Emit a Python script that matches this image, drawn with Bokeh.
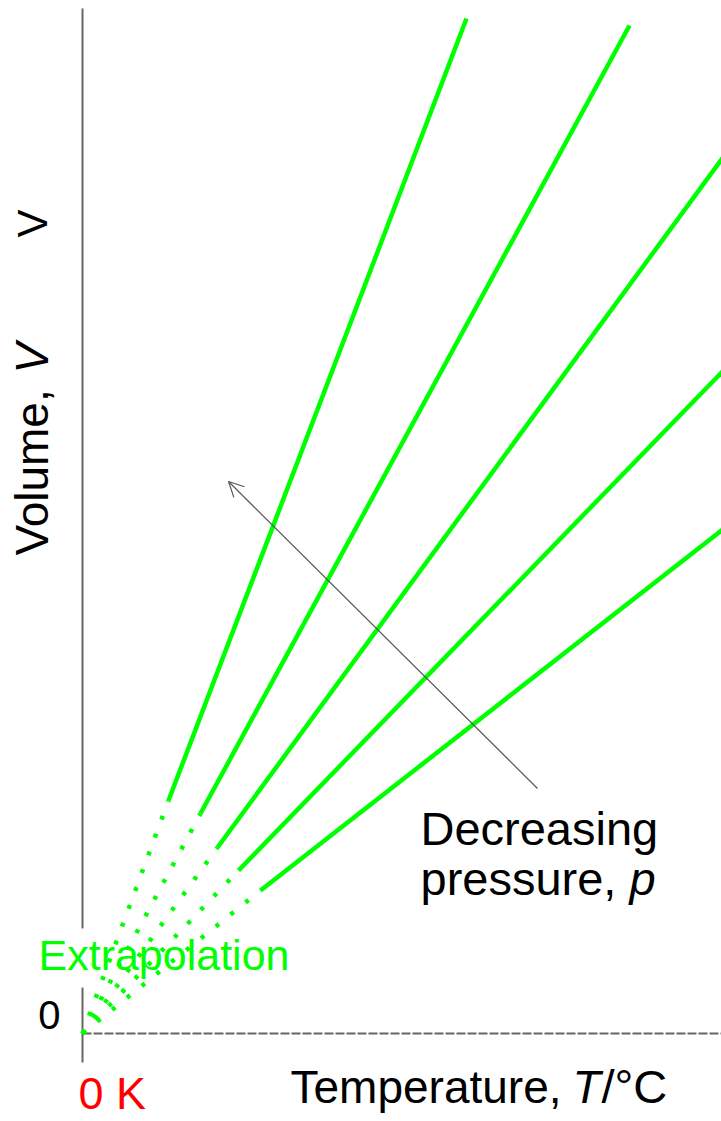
from bokeh.plotting import figure
from bokeh.models import Range1d, Label, Arrow, OpenHead
from bokeh.embed import file_html
from bokeh.resources import INLINE
import math

# ---- data (arbitrary units: temperature in K from absolute zero, volume) ----
t_solid_start = [43.0, 59.0, 67.5, 78.0, 89.0]
v_solid_start = [116.5, 110.0, 93.0, 81.5, 71.5]
t_solid_end = [192.0, 273.5, 320.0, 320.0, 320.0]
v_solid_end = [507.5, 504.0, 437.7, 331.0, 251.9]

x_axis_t = [0.0, 320.0]
y_axis_v = [-14.5, 512.5]

GREEN = "#00ff00"
AXIS = "#666666"
FONT = "Liberation Sans"

W, H = 721, 1121
SCALE = 2.0          # pixels per data unit
OX, OY = 82, 1033    # pixel position of the origin


def dx(px):
    return (px - OX) / SCALE


def dy(py):
    return (OY - py) / SCALE


p = figure(width=W, height=H, output_backend="svg", toolbar_location=None,
           x_range=Range1d(dx(0), dx(W)), y_range=Range1d(dy(H), dy(0)),
           x_axis_location=None, y_axis_location=None, min_border=0,
           tools="")
p.outline_line_color = None
p.grid.visible = False
p.background_fill_color = "white"
p.border_fill_color = "white"

# axes
p.line([0, 0], y_axis_v, line_color=AXIS, line_width=2)
p.line(x_axis_t, [0, 0], line_color=AXIS, line_width=2, line_dash="9 2")

# white box behind "Extrapolation"
p.quad(left=[dx(35)], right=[dx(296)], bottom=[dy(987)], top=[dy(928)],
       fill_color="white", line_color=None)

# lines
for i in range(len(t_solid_start)):
    p.line([0, t_solid_start[i]], [0, v_solid_start[i]], line_color=GREEN,
           line_width=4.5, line_dash="4 15", line_cap="butt")
    p.line([t_solid_start[i], t_solid_end[i]], [v_solid_start[i], v_solid_end[i]],
           line_color=GREEN, line_width=4.5)

# arrow
p.add_layout(Arrow(end=OpenHead(size=15, line_color="#555555", line_width=1.2),
                   x_start=dx(537), y_start=dy(788), x_end=dx(228), y_end=dy(481),
                   line_color="#555555", line_width=1.2))


def lab(text, px, py, size, color="black", style="normal", align="left", angle=0.0):
    if angle == 0.0:
        py = py - 0.4 * size
    else:
        px = px - 0.47 * size
    p.add_layout(Label(x=dx(px), y=dy(py), text=text, text_font=FONT,
                       text_font_size=f"{size}px", text_color=color,
                       text_font_style=style, text_align=align,
                       text_baseline="alphabetic", angle=angle))


lab("Decreasing", 420, 847, 47)
lab("pressure, ", 420, 897, 47)
lab("p", 629, 897, 47, style="italic")
lab("Temperature, ", 290, 1105, 46)
lab("T", 572, 1105, 46, style="italic")
lab("/°C", 601, 1105, 47)
lab("0 K", 78, 1111, 45, color="#ff0000")
lab("0", 60, 1030, 40, align="right")
lab("Extrapolation", 38, 972, 43, color=GREEN)
lab("Volume, ", 53, 555, 46, angle=math.pi / 2)
lab("V", 53, 373, 46, style="italic", angle=math.pi / 2)
lab("V", 52, 237, 42, angle=math.pi / 2)

open("out.html", "w").write(file_html(p, INLINE))
